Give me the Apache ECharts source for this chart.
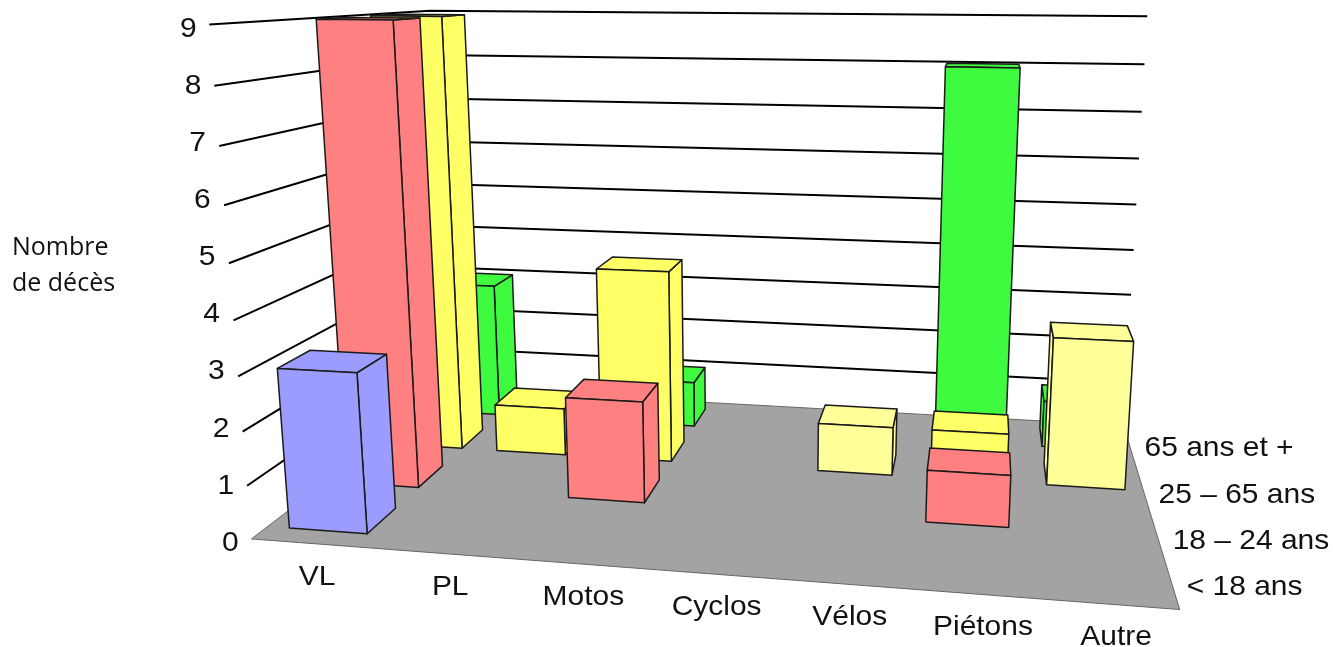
<!DOCTYPE html>
<html>
<head>
<meta charset="utf-8">
<style>html,body{margin:0;padding:0;background:#fff}#c{width:1333px;height:647px}</style>
<script src="https://cdn.jsdelivr.net/npm/echarts@6/dist/echarts.min.js"></script>
</head>
<body>
<div id="c"></div>
<script>
// ---- data ----
const categories = ['VL', 'PL', 'Motos', 'Cyclos', 'Vélos', 'Piétons', 'Autre'];
const ageGroups = ['< 18 ans', '18 – 24 ans', '25 – 65 ans', '65 ans et +'];
const valueTicks = [0, 1, 2, 3, 4, 5, 6, 7, 8, 9];
const under18 = [3, 0, 0, 0, 0, 0, 0];
const age18to24 = [9, 0, 2, 0, 0, 1, 0];
const age25to65 = [9, 1, 4, 0, 1, 1, 3];
const age65plus = [3, 0, 1, 0, 0, 8, 1];

// ---- perspective camera: calibration of the 3D box (category, depth, value) -> screen ----
const calib = [
  [0,0,0,252,538],[0,0,1,247,486],[0,0,2,242,432],[0,0,3,238,377],[0,0,4,233,321],[0,0,5,229,264],[0,0,6,224,207],[0,0,7,219,147],[0,0,8,213,87],[0,0,9,208,26],
  [0,4,0,447,386],[0,4,3,443,266],[0,4,9,433,9],
  [7,4,0,1123,433],[7,4,3,1130,295],[7,4,5,1136,204],[7,4,7,1141,111],[7,4,9,1147,15],
  [7,0,0,1181,607],[7,0,0,1181,607],[7,0,0,1181,607]
];
function fitCamera(pts) {
  const n = 11, A = Array.from({length:n},()=>new Array(n+1).fill(0));
  const add = (r, b) => { for (let i=0;i<n;i++){ for(let j=0;j<n;j++) A[i][j]+=r[i]*r[j]; A[i][n]+=r[i]*b; } };
  pts.forEach(([u,v,w,x,y]) => {
    const X=x/1000, Y=y/1000;
    add([u,v,w,1,0,0,0,0,-X*u,-X*v,-X*w], X);
    add([0,0,0,0,u,v,w,1,-Y*u,-Y*v,-Y*w], Y);
  });
  for (let c=0;c<n;c++){
    let m=c; for(let r=c+1;r<n;r++) if(Math.abs(A[r][c])>Math.abs(A[m][c])) m=r;
    [A[c],A[m]]=[A[m],A[c]];
    for(let r=0;r<n;r++){ if(r===c) continue; const f=A[r][c]/A[c][c]; for(let k=c;k<=n;k++) A[r][k]-=f*A[c][k]; }
  }
  return A.map((row,i)=>row[n]/row[i]);
}
const P = fitCamera(calib);
function project(u,v,w){
  const d = P[8]*u+P[9]*v+P[10]*w+1;
  return [1000*(P[0]*u+P[1]*v+P[2]*w+P[3])/d, 1000*(P[4]*u+P[5]*v+P[6]*w+P[7])/d];
}
// flat cartesian position (from the hidden axes) -> model coordinates
function toModel(api, params, cat, value){
  const cs = params.coordSys, p = api.coord([cat, value]), bw = api.size([1,0])[0];
  return [(p[0]-cs.x)/bw, (cs.y+cs.height-p[1])/cs.height*valueTicks[valueTicks.length-1]];
}
const BAR_HALF_W = 0.33, BAR_SHIFT = 0.015, BAR_V0 = 0.25, BAR_V1 = 0.78;
const edge = '#1a1a1a';
function area(q){ let s=0; for(let i=0;i<q.length;i++){const a=q[i],b=q[(i+1)%q.length]; s+=a[0]*b[1]-a[1]*b[0];} return s; }
function barRenderer(row, color, paleColor, paleCats){
  return function(params, api){
    const cat = api.value(0), val = api.value(1);
    if (!val) return null;
    const [uc, w1] = toModel(api, params, cat, val);
    const u0=uc+BAR_SHIFT-BAR_HALF_W, u1=uc+BAR_SHIFT+BAR_HALF_W, v0=row+BAR_V0, v1=row+BAR_V1;
    const fill = paleCats.indexOf(categories[cat])>=0 ? paleColor : color;
    const face = pts => ({type:'polygon',shape:{points:pts},style:{fill,stroke:edge,lineWidth:1.5,lineJoin:'round'}});
    const L=[project(u0,v0,0),project(u0,v1,0),project(u0,v1,w1),project(u0,v0,w1)];
    const R=[project(u1,v0,0),project(u1,v1,0),project(u1,v1,w1),project(u1,v0,w1)];
    const T=[project(u0,v0,w1),project(u1,v0,w1),project(u1,v1,w1),project(u0,v1,w1)];
    const F=[project(u0,v0,0),project(u1,v0,0),project(u1,v0,w1),project(u0,v0,w1)];
    const ch=[];
    if(area(L)>0) ch.push(face(L));
    if(area(R)<0) ch.push(face(R));
    ch.push(face(T)); ch.push(face(F));
    return {type:'group',children:ch};
  };
}
const labelFont = '28px "Liberation Sans", Arial, sans-serif';
const txt = (text,x,y,align) => ({type:'text',x,y,scaleX:1.07,style:{text,x:0,y:0,fill:'#111',font:labelFont,align:align||'center',verticalAlign:'middle'}});
const indexed = arr => arr.map((v,i)=>[i,v]);
const lerp = (a,b,t) => a+(b-a)*t;

const option = {
  animation:false,
  title:{text:'Nombre\nde décès',left:7,top:225,textStyle:{fontFamily:'"Open Sans"',fontSize:25,fontWeight:'normal',color:'#111',lineHeight:36}},
  grid:{left:100,top:20,width:700,height:450,show:false},
  xAxis:{type:'category',data:categories,show:false},
  yAxis:{type:'value',min:0,max:9,interval:1,show:false},
  series:[
    {type:'custom',name:'floor',coordinateSystem:'cartesian2d',silent:true,data:[[0,0]],
     renderItem:()=>({type:'polygon',shape:{points:[project(0,0,0),project(7,0,0),project(7,4,0),project(0,4,0)]},style:{fill:'#a3a3a3',stroke:'#666',lineWidth:1}})},
    {type:'custom',name:'gridlines',coordinateSystem:'cartesian2d',silent:true,data:valueTicks.map(t=>[0,t]),
     renderItem:(params,api)=>{
       const w=toModel(api,params,0,api.value(1))[1];
       const n=categories.length, ch=[], top=valueTicks[valueTicks.length-1];
       if(w>0) ch.push({type:'polyline',shape:{points:[project(0,0,w),project(0,4,w),project(n,4,w)]},style:{fill:'none',stroke:'#000',lineWidth:2}});
       // tick labels are evenly spaced along the front-left edge
       const a=project(0,0,0), b=project(0,0,top), t=w/top;
       ch.push(txt(String(valueTicks[params.dataIndex]),lerp(a[0],b[0],t)-21,lerp(a[1]+4,b[1]+5,t)));
       return {type:'group',children:ch};
     }},
    {type:'custom',name:'categories',coordinateSystem:'cartesian2d',silent:true,data:categories.map((c,i)=>[i,0]),
     renderItem:(params,api)=>{
       // labels sit evenly along the front edge of the floor
       const a=project(0,0,0), b=project(categories.length,0,0), t=toModel(api,params,api.value(0),0)[0]/categories.length;
       return txt(categories[params.dataIndex],lerp(a[0]-1,b[0]+3,t),lerp(a[1],b[1],t)+33);
     }},
    {type:'custom',name:'ages',coordinateSystem:'cartesian2d',silent:true,data:ageGroups.map((a,i)=>[i,0]),
     renderItem:(params)=>{
       // labels sit evenly along the right edge of the floor
       const r=params.dataIndex, n=ageGroups.length, a=project(7,0,0), b=project(7,n,0), t=(r+0.5)/n;
       return txt(ageGroups[r],lerp(a[0],b[0],t)+14,lerp(a[1],b[1],t)+1-0.3*r,'left');
     }},
    {type:'custom',name:ageGroups[3],coordinateSystem:'cartesian2d',data:indexed(age65plus),renderItem:barRenderer(3,'#3ffb3f','#3ffb3f',[])},
    {type:'custom',name:ageGroups[2],coordinateSystem:'cartesian2d',data:indexed(age25to65),renderItem:barRenderer(2,'#ffff66','#ffff99',['Vélos','Autre'])},
    {type:'custom',name:ageGroups[1],coordinateSystem:'cartesian2d',data:indexed(age18to24),renderItem:barRenderer(1,'#ff8080','#ff8080',[])},
    {type:'custom',name:ageGroups[0],coordinateSystem:'cartesian2d',data:indexed(under18),renderItem:barRenderer(0,'#9c9cff','#9c9cff',[])}
  ]
};
echarts.init(document.getElementById('c'),null,{renderer:'canvas'}).setOption(option);
</script>
</body>
</html>
